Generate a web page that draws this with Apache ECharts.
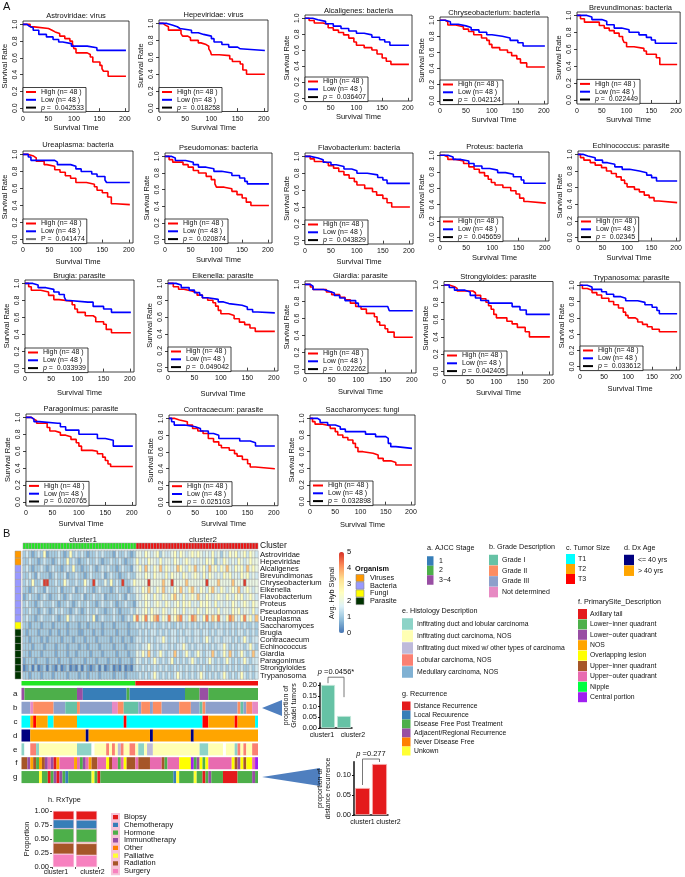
<!DOCTYPE html>
<html><head><meta charset="utf-8">
<script src="https://cdn.jsdelivr.net/npm/echarts@6/dist/echarts.min.js"></script>
<style>html,body{margin:0;padding:0;background:#fff}#c{width:685px;height:877px}</style>
</head><body><div id="c"></div>
<script>
const FONT = '"Liberation Sans", Arial, Helvetica, sans-serif';

// ================= Panel A : Kaplan-Meier data =================
const kmTitles = ['Astroviridae: virus','Hepeviridae: virus','Alcaligenes: bacteria','Chryseobacterium: bacteria','Brevundimonas: bacteria',
 'Ureaplasma: bacteria','Pseudomonas: bacteria','Flavobacterium: bacteria','Proteus: bacteria','Echinococcus: parasite',
 'Brugia: parasite','Eikenella: parasite','Giardia: parasite','Strongyloides: parasite','Trypanosoma: parasite',
 'Paragonimus: parasite','Contracaecum: parasite','Saccharomyces: fungi'];
const kmPvalues = ['0.042533','0.018258','0.036407','0.042124','0.022449','0.041474','0.020874','0.043829','0.045659','0.02345',
 '0.033939','0.049042','0.022262','0.042405','0.033612','0.020765','0.025103','0.032898'];
const kmPSymbols = ['p','p','p','p','p','P','p','p','p','p','p','p','p','p','p','p','p','p'];
const kmHighLabel = 'High (n= 48 )';
const kmLowLabel = 'Low (n= 48 )';

const kmHigh = [
 [[0,1],[14,0.97],[22,0.95],[50,0.93],[57,0.91],[63,0.89],[72,0.86],[82,0.83],[92,0.8],[97,0.77],[100,0.71],[104,0.66],[126,0.64],[132,0.61],[137,0.55],[151,0.51],[155,0.47],[158,0.44],[167,0.38],[202,0.38]],
 [[0,1],[8,0.98],[12,0.96],[18,0.92],[42,0.88],[45,0.85],[55,0.83],[60,0.8],[75,0.77],[80,0.75],[90,0.73],[95,0.7],[98,0.67],[100,0.63],[115,0.62],[135,0.58],[140,0.55],[155,0.52],[160,0.45],[167,0.4],[202,0.4]],
 [[0,1],[8,0.97],[18,0.94],[35,0.92],[45,0.88],[55,0.85],[65,0.82],[75,0.79],[85,0.75],[95,0.7],[100,0.66],[115,0.63],[130,0.6],[140,0.55],[150,0.5],[158,0.46],[167,0.42],[202,0.42]],
 [[0,1],[10,0.98],[15,0.94],[30,0.92],[45,0.89],[55,0.86],[65,0.82],[80,0.78],[90,0.75],[95,0.7],[100,0.66],[115,0.63],[130,0.6],[138,0.56],[148,0.52],[155,0.47],[167,0.42],[202,0.42]],
 [[0,1],[7,0.96],[15,0.92],[45,0.88],[55,0.85],[65,0.82],[75,0.79],[85,0.75],[92,0.72],[95,0.68],[100,0.63],[115,0.61],[135,0.58],[140,0.54],[160,0.5],[167,0.42],[202,0.42]],
 [[0,1],[10,0.98],[20,0.96],[25,0.92],[40,0.88],[45,0.86],[60,0.82],[70,0.79],[80,0.75],[90,0.72],[100,0.67],[120,0.65],[135,0.62],[140,0.58],[150,0.55],[160,0.5],[167,0.42],[175,0.41],[202,0.41]],
 [[0,1],[8,0.96],[15,0.93],[35,0.9],[45,0.87],[55,0.83],[65,0.8],[80,0.76],[90,0.72],[97,0.67],[100,0.63],[115,0.61],[130,0.58],[140,0.54],[150,0.5],[158,0.45],[167,0.41],[202,0.41]],
 [[0,1],[10,0.97],[18,0.94],[35,0.92],[45,0.89],[55,0.86],[65,0.82],[75,0.78],[85,0.74],[95,0.7],[100,0.66],[115,0.62],[130,0.58],[138,0.54],[150,0.5],[158,0.45],[167,0.4],[202,0.4]],
 [[0,1],[8,0.98],[15,0.95],[30,0.93],[45,0.9],[55,0.86],[65,0.83],[75,0.79],[85,0.75],[92,0.71],[98,0.67],[105,0.64],[120,0.61],[135,0.57],[145,0.53],[152,0.48],[160,0.44],[167,0.42],[202,0.42]],
 [[0,1],[5,0.96],[12,0.93],[25,0.9],[35,0.87],[48,0.84],[58,0.8],[68,0.77],[78,0.73],[88,0.69],[95,0.65],[100,0.61],[115,0.58],[125,0.55],[135,0.51],[145,0.48],[155,0.44],[165,0.42],[202,0.42]],
 [[0,1],[7,0.96],[12,0.92],[30,0.9],[45,0.86],[55,0.81],[65,0.79],[90,0.75],[95,0.7],[100,0.66],[115,0.62],[130,0.6],[135,0.55],[150,0.52],[155,0.46],[165,0.42],[202,0.42]],
 [[0,1],[10,0.96],[20,0.93],[30,0.91],[45,0.89],[55,0.86],[65,0.83],[75,0.8],[85,0.77],[90,0.73],[95,0.68],[100,0.64],[115,0.62],[125,0.58],[135,0.54],[145,0.51],[155,0.47],[165,0.43],[202,0.43]],
 [[0,1],[10,0.97],[15,0.94],[40,0.91],[50,0.88],[65,0.85],[75,0.82],[85,0.78],[95,0.74],[105,0.71],[115,0.66],[130,0.62],[135,0.56],[140,0.52],[150,0.48],[155,0.44],[167,0.38],[202,0.38]],
 [[0,1],[10,0.98],[20,0.96],[25,0.93],[55,0.91],[60,0.88],[70,0.84],[80,0.8],[85,0.76],[90,0.72],[95,0.66],[100,0.62],[115,0.62],[120,0.58],[130,0.55],[140,0.51],[155,0.46],[163,0.4],[202,0.4]],
 [[0,1],[5,0.96],[15,0.94],[25,0.91],[35,0.88],[45,0.84],[60,0.8],[70,0.76],[80,0.72],[90,0.67],[95,0.63],[100,0.6],[115,0.58],[120,0.55],[130,0.52],[140,0.49],[150,0.46],[165,0.43],[202,0.43]],
 [[0,1],[10,0.98],[15,0.96],[20,0.93],[40,0.88],[45,0.84],[55,0.82],[65,0.79],[75,0.77],[85,0.74],[95,0.7],[100,0.66],[105,0.61],[125,0.6],[135,0.57],[145,0.53],[150,0.49],[155,0.45],[160,0.42],[202,0.42]],
 [[0,1],[10,0.98],[20,0.96],[35,0.92],[45,0.88],[55,0.85],[65,0.82],[75,0.76],[85,0.72],[95,0.68],[100,0.65],[115,0.62],[125,0.58],[130,0.55],[140,0.51],[150,0.46],[155,0.42],[165,0.4],[202,0.4]],
 [[0,1],[5,0.96],[10,0.93],[25,0.91],[40,0.88],[50,0.84],[55,0.8],[65,0.77],[75,0.74],[85,0.7],[90,0.65],[95,0.6],[105,0.58],[125,0.56],[135,0.52],[145,0.49],[160,0.47],[170,0.44],[202,0.44]]
];
const kmLow = [
 [[0,1],[8,0.98],[12,0.96],[20,0.93],[31,0.88],[46,0.85],[59,0.82],[70,0.79],[78,0.77],[95,0.74],[126,0.72],[145,0.69],[202,0.69]],
 [[0,1],[15,0.98],[25,0.96],[35,0.94],[40,0.92],[62,0.89],[75,0.87],[85,0.85],[100,0.82],[105,0.78],[120,0.75],[133,0.72],[150,0.7],[155,0.68],[202,0.68]],
 [[0,1],[15,0.98],[25,0.96],[40,0.93],[55,0.9],[70,0.87],[85,0.84],[100,0.81],[115,0.79],[130,0.76],[145,0.73],[155,0.7],[165,0.66],[202,0.66]],
 [[0,1],[10,0.98],[20,0.95],[35,0.93],[50,0.91],[60,0.88],[75,0.85],[90,0.82],[100,0.8],[120,0.78],[135,0.75],[150,0.72],[160,0.68],[202,0.68]],
 [[0,1],[20,0.98],[30,0.95],[50,0.93],[60,0.89],[75,0.85],[90,0.83],[105,0.8],[125,0.77],[140,0.74],[150,0.71],[158,0.67],[202,0.67]],
 [[0,1],[10,0.97],[15,0.93],[50,0.93],[60,0.91],[65,0.88],[90,0.86],[100,0.83],[110,0.8],[130,0.77],[140,0.74],[155,0.7],[158,0.67],[202,0.67]],
 [[0,1],[12,0.98],[20,0.95],[40,0.93],[55,0.9],[65,0.87],[80,0.85],[95,0.82],[110,0.8],[130,0.77],[145,0.74],[155,0.7],[160,0.67],[202,0.67]],
 [[0,1],[10,0.98],[25,0.96],[35,0.93],[50,0.9],[60,0.88],[75,0.85],[90,0.83],[100,0.8],[120,0.78],[140,0.75],[150,0.72],[158,0.68],[202,0.68]],
 [[0,1],[15,0.98],[25,0.95],[40,0.93],[55,0.9],[65,0.87],[80,0.84],[95,0.82],[110,0.79],[125,0.77],[140,0.74],[155,0.7],[160,0.66],[202,0.66]],
 [[0,1],[10,0.98],[20,0.96],[35,0.93],[50,0.9],[60,0.88],[75,0.85],[90,0.82],[105,0.8],[125,0.78],[140,0.75],[150,0.72],[160,0.68],[202,0.68]],
 [[0,1],[15,0.98],[25,0.95],[40,0.93],[55,0.9],[65,0.87],[75,0.84],[78,0.8],[85,0.78],[120,0.78],[130,0.73],[150,0.7],[165,0.66],[202,0.66]],
 [[0,1],[15,0.98],[25,0.95],[40,0.92],[50,0.89],[60,0.86],[65,0.83],[75,0.81],[95,0.78],[105,0.76],[115,0.74],[140,0.72],[150,0.69],[160,0.66],[170,0.65],[202,0.65]],
 [[0,1],[10,0.98],[15,0.94],[35,0.92],[45,0.9],[55,0.87],[65,0.84],[75,0.81],[95,0.78],[100,0.74],[155,0.74],[158,0.69],[202,0.69]],
 [[0,1],[10,0.97],[20,0.94],[40,0.92],[50,0.88],[60,0.85],[70,0.82],[85,0.79],[125,0.79],[130,0.75],[145,0.71],[157,0.66],[202,0.66]],
 [[0,1],[15,0.98],[25,0.95],[45,0.92],[55,0.89],[70,0.86],[85,0.84],[95,0.81],[120,0.79],[135,0.76],[150,0.73],[160,0.69],[165,0.65],[202,0.65]],
 [[0,1],[10,0.98],[15,0.95],[25,0.93],[60,0.93],[65,0.89],[75,0.85],[90,0.85],[100,0.8],[125,0.8],[135,0.75],[150,0.73],[165,0.66],[202,0.66]],
 [[0,1],[5,0.96],[10,0.92],[30,0.9],[50,0.88],[60,0.85],[75,0.82],[85,0.8],[95,0.76],[125,0.76],[135,0.73],[155,0.71],[165,0.67],[202,0.67]],
 [[0,1],[15,0.98],[20,0.95],[35,0.92],[50,0.9],[60,0.87],[70,0.84],[105,0.84],[110,0.81],[130,0.78],[150,0.76],[155,0.7],[160,0.66],[170,0.64],[202,0.64]]
];

// ================= Panel B : heatmap data =================
const heatRowNames = ['Astroviridae','Hepeviridae','Alcaligenes','Brevundimonas','Chryseobacterium','Eikenella','Flavobacterium','Proteus',
 'Pseudomonas','Ureaplasma','Saccharomyces','Brugia','Contracaecum','Echinococcus','Giardia','Paragonimus','Strongyloides','Trypanosoma'];
const heatRowOrganism = [1,1,2,2,2,2,2,2,2,2,3,4,4,4,4,4,4,4]; // 1 Viruses 2 Bacteria 3 Fungi 4 Parasite
const nCluster1 = 39;
const nCluster2 = 42;
// signal level of every cell (digit = level index into heatLevels)
const heatLevels = [0.15, 0.6, 1.05, 1.5, 1.95, 2.5, 3.0, 3.6, 4.2, 4.9];
const heatRows = [
 '2321232512 2232125232 3212232322 2132232124 4354345243 3453543454 5434353424 3545345354 3',
 '2232212322 1232252321 2232232122 3223212235 3435443534 4354345434 3435452435 4343543454 4',
 '2321223212 3221232522 1223212323 2212322134 5374354735 4347543547 3453745354 7435453745 4',
 '2232132221 2322312232 2123222312 3221223224 4354354435 3544354345 4353543435 4534354534 3',
 '2325223992 2322532232 2532932242 5232922354 4449444474 4944447444 4449444744 4474449444 4',
 '2212322132 2231222312 2322123222 1232221234 3547435473 4354743574 3543574354 3454734543 4',
 '1232212321 2232123222 3122322312 2223213224 3454354354 3574353454 7435434543 5435453454 3',
 '2322123222 3212232123 2232212322 3212232213 4354345435 4345354534 3545435343 4354345435 4',
 '2232212321 2323221232 1232232212 2321222324 3453544354 3454353443 5435443534 4354534435 3',
 '2322123222 3212252322 2232512322 2322123258 4584578354 8457843587 4358475843 5874358453 7',
 '2212221222 1222212221 2212222122 2122221223 2323232232 3223232323 2323223232 3232323223 2',
 '2122212221 2212212221 1222122122 2212221222 3232332323 2332323323 3233232332 3232332323 2',
 '2212221212 2221222122 2122212222 1222122123 3232323353 2332332323 3235323323 3323235323 3',
 '2221222122 2122212221 2212221222 2122212223 2335323233 2323353232 3323232335 3232332353 2',
 '2212221222 2122212212 2221222122 2212221224 3537323532 3373235323 5323373235 3732353237 3',
 '1222122212 2212221222 2122212221 2221222124 3232353232 3523232353 2323532323 5323235323 3',
 '0120201202 1020120102 0210120201 2010201023 2323232323 2232323232 3232232323 2323232232 3',
 '2212221222 1222212221 2212221222 2122212222 3232353232 3235323232 3532323235 3232353232 3'
];
// annotation tracks as runs [category code, number of samples]
const trackAjcc = [[3,1],[2,18],[3,2],[1,15],[2,1],[1,19],[2,5],[3,3],[2,17]];
const trackGrade = [[3,3],[4,1],[2,7],[3,4],[1,4],[2,1],[3,11],[4,2],[2,2],[1,5],[3,1],[2,3],[3,1],[2,3],[3,6],[2,4],[3,3],[1,1],[2,1],[3,11],[2,1],[1,1],[3,1],[2,2],[4,2]];
const trackTumor = [[1,3],[2,1],[3,1],[2,4],[1,2],[2,8],[1,16],[3,1],[1,26],[3,2],[2,9],[3,1],[2,6],[1,1]];
const trackAge = [[1,3],[2,19],[1,1],[2,21],[1,1],[2,13],[1,1],[2,22]];
const trackHisto = [[1,1],[0,2],[4,2],[1,1],[2,13],[1,5],[0,1],[2,4],[4,1],[2,1],[4,1],[2,1],[3,1],[4,1],[2,2],[4,2],[2,1],[1,2],[2,1],[3,2],[2,16],[1,3],[2,5],[0,1],[2,3],[1,1],[4,1],[2,1],[4,1],[2,2],[4,2]];
const trackSite = [[6,2],[3,1],[4,1],[6,1],[2,1],[4,1],[6,1],[3,1],[7,1],[3,1],[1,1],[4,1],[7,5],[4,1],[7,1],[2,1],[3,1],[7,1],[4,1],[6,2],[7,3],[5,1],[6,1],[7,2],[2,1],[7,1],[5,1],[6,3],[7,1],[6,4],[7,4],[6,1],[2,1],[7,4],[5,4],[9,1],[2,1],[3,1],[5,1],[2,1],[5,1],[7,8],[5,1],[6,1],[3,1],[5,1],[6,1],[5,2],[7,1],[9,1]];
const trackRecur = [[3,6],[6,1],[3,2],[1,1],[3,1],[4,1],[1,1],[4,1],[3,1],[2,1],[3,8],[6,1],[3,1],[1,1],[3,25],[2,1],[6,1],[3,5],[6,1],[3,2],[1,1],[3,1],[4,1],[3,4],[1,5],[3,5],[4,1],[3,1]];
const trackLetters = ['a','b','c','d','e','f','g'];

// legends (names and colours)
const organismNames = ['Viruses','Bacteria','Fungi','Parasite'];
const organismColors = ['#ff9900','#9999ff','#ffff00','#003300'];
const clusterColors = ['#22e622','#ee1111'];
const ajccNames = ['1','2','3\u22124'];
const ajccColors = ['#377eb8','#4daf4a','#984ea3'];
const gradeNames = ['Grade I','Grade II','Grade III','Not determined'];
const gradeColors = ['#66c2a5','#fc8d62','#8da0cb','#e78ac3'];
const tumorNames = ['T1','T2','T3'];
const tumorColors = ['#00ffff','#ffa500','#ff0000'];
const ageNames = ['<= 40 yrs','> 40 yrs'];
const ageColors = ['#000080','#ffa500'];
const histoNames = ['Infitrating duct and lobular carcinoma','Infitrating duct carcinoma, NOS','Infitrating duct mixed w/ other types of carcinoma','Lobular carcinoma, NOS','Medullary carcinoma, NOS'];
const histoColors = ['#8dd3c7','#ffffb3','#bebada','#fb8072','#80b1d3'];
const siteNames = ['Axillary tail','Lower\u2212inner quadrant','Lower\u2212outer quadrant','NOS','Overlapping lesion','Upper\u2212inner quadrant','Upper\u2212outer quadrant','Nipple','Central portion'];
const siteColors = ['#e41a1c','#4daf4a','#984ea3','#ffa500','#ffff00','#a65628','#e86bb0','#00ff40','#a020f0'];
const recurNames = ['Distance Recurrence','Local Recuurence','Disease Free Post Treatment','Adjacent/Regional Recurrence','Never Disease Free','Unkown'];
const recurColors = ['#e41a1c','#377eb8','#4daf4a','#984ea3','#ff7f00','#ffff33'];
const heatColors = ['#4575b4','#91bfdb','#e0f3f8','#ffffbf','#fee090','#fc8d59','#d73027'];

// bar charts
const clusterNames = ['cluster1','cluster2'];
const gradeIProportion = [0.201, 0.056];
const gradeIP = '0.0456*';
const distRecurProportion = [0.0675, 0.1275];
const distRecurP = '0.277';
const rxNames = ['Biopsy','Chemotherapy','Hormone','Immunotherapy','Other','Palliative','Radiation','Surgery'];
const rxColors = ['#e41a1c','#377eb8','#4daf4a','#984ea3','#ff7f00','#ffff33','#a65628','#f781bf'];
const rxCluster1 = [0.155, 0.16, 0.25, 0.0, 0.0, 0.005, 0.20, 0.23];
const rxCluster2 = [0.16, 0.16, 0.24, 0.0, 0.005, 0.015, 0.21, 0.21];

// ================= layout (pixels) =================
// [frameLeft, frameRight, frameTop, frameBottom, titleY, xNameY]
const kmFrames = [
 [23,129,21,111.5,16,128],[159,268,20,111.5,15,128],[305,412,15,101,11,117],[440,548,17,104,13,120],[577,684,12,103.4,8,120],
 [23,133,151,243,145,262],[165,272,153,243,148,260],[305,413,153,244,148,262],[440,549,152,241,147,258],[578,684,151,241,146,258],
 [25,134,280,372,276,393],[168,278,280,371,276,394],[305,416,281,373,276,392],[444,553,281.5,375,277,393],[580,683,282,370,278,389],
 [26,136,414,505.4,409,524],[169,278,415,505.7,410,524],[310,415,415,505,410,525]
];

const grid = [], xAxis = [], yAxis = [], series = [], legend = [], graphic = [];
const txt = (text, x, y, size, extra) => Object.assign({type:'text', x, y, silent:true,
  style: Object.assign({text, fontSize:size, fontFamily:FONT, fill:'#111', align:'left', verticalAlign:'middle'}, extra || {})});

// ---------- KM plots ----------
kmFrames.forEach((f, i) => {
  const [L, R, T, B, ty, ny] = f;
  const gi = grid.length;
  grid.push({left:L, top:T, width:R-L, height:B-T, show:true, borderColor:'#111', borderWidth:0.8, backgroundColor:'transparent'});
  xAxis.push({type:'value', gridIndex:gi, min:0, max:208,
    name:'Survival Time', nameLocation:'middle', nameGap: ny - B - 4.5,
    nameTextStyle:{fontSize:7.5, color:'#111', fontFamily:FONT},
    axisLine:{show:false}, splitLine:{show:false},
    axisTick:{show:true, length:3, customValues:[0,50,100,150,200], lineStyle:{color:'#111', width:0.8}},
    axisLabel:{customValues:[0,50,100,150,200], fontSize:7, margin:4, color:'#111', fontFamily:FONT}});
  yAxis.push({type:'value', gridIndex:gi, min:-0.04, max:1.04,
    name:'Survival Rate', nameLocation:'middle', nameGap:14,
    nameTextStyle:{fontSize:7.5, color:'#111', fontFamily:FONT},
    axisLine:{show:false}, splitLine:{show:false},
    axisTick:{show:true, length:3, customValues:[0,0.2,0.4,0.6,0.8,1], lineStyle:{color:'#111', width:0.8}},
    axisLabel:{customValues:[0,0.2,0.4,0.6,0.8,1], rotate:90, fontSize:7, margin:4, color:'#111', fontFamily:FONT,
      formatter: v => v.toFixed(1)}});
  const pName = kmPSymbols[i] + ' =  ' + kmPvalues[i];
  series.push({type:'line', name:kmHighLabel, xAxisIndex:gi, yAxisIndex:gi, data:kmHigh[i], step:'end', symbol:'none',
    lineStyle:{color:'#ff0000', width:1.6}, itemStyle:{color:'#ff0000'}, z:3});
  series.push({type:'line', name:kmLowLabel, xAxisIndex:gi, yAxisIndex:gi, data:kmLow[i], step:'end', symbol:'none',
    lineStyle:{color:'#0000ff', width:1.6}, itemStyle:{color:'#0000ff'}, z:4});
  series.push({type:'line', name:pName, xAxisIndex:gi, yAxisIndex:gi, data:[], symbol:'none',
    itemStyle:{color: kmPSymbols[i] === 'P' ? '#777' : '#000'}});
  legend.push({left:L, top:B-24, orient:'vertical', data:[kmHighLabel, kmLowLabel, pName], icon:'rect',
    itemWidth:10, itemHeight:2, itemGap:0.8, itemTextGap:3, padding:[1,2,1,3], selectedMode:false,
    borderColor:'#111', borderWidth:0.8, borderRadius:0, backgroundColor:'#fff',
    textStyle:{fontSize:7, lineHeight:7, color:'#111', fontFamily:FONT, rich:{i:{fontStyle:'italic', fontSize:7, fontFamily:FONT}}},
    formatter: n => n.indexOf('p =') === 0 ? '{i|p}' + n.slice(1) : n});
  graphic.push(txt(kmTitles[i], (L+R)/2, ty, 7.5, {align:'center'}));
});

// ---------- Heatmap ----------
const nCols = nCluster1 + nCluster2;
const colCats = Array.from({length:nCols}, (_, k) => 'S' + (k+1));
let gi = grid.length;
grid.push({left:23, top:551, width:235, height:128});
xAxis.push({type:'category', gridIndex:gi, data:colCats, show:false});
yAxis.push({type:'category', gridIndex:gi, data:heatRowNames, inverse:true, position:'right',
  axisLine:{show:false}, axisTick:{show:false},
  axisLabel:{interval:0, fontSize:7.6, margin:2, color:'#111', fontFamily:FONT}});
const heatData = [];
heatRows.forEach((s, r) => s.replace(/\s/g,'').split('').forEach((ch, c) => heatData.push([c, r, heatLevels[+ch]])));
const heatSeriesIndex = series.length;
series.push({type:'heatmap', xAxisIndex:gi, yAxisIndex:gi, data:heatData,
  itemStyle:{borderColor:'#9a9a9a', borderWidth:0.5}, emphasis:{disabled:true}});

function cellRender(palette) {
  return function (params, api) {
    const c = api.coord([api.value(0), api.value(1)]);
    const s = api.size([1, 1]);
    return {type:'rect', shape:{x:c[0]-s[0]/2, y:c[1]-s[1]/2, width:s[0], height:s[1]},
      style:{fill:palette[api.value(2)-1], stroke:'#9a9a9a', lineWidth:0.5}};
  };
}
// cluster row (top)
gi = grid.length;
grid.push({left:23, top:543, width:235, height:6});
xAxis.push({type:'category', gridIndex:gi, data:colCats, show:false});
yAxis.push({type:'category', gridIndex:gi, data:['Cluster'], position:'right', axisLine:{show:false}, axisTick:{show:false},
  axisLabel:{fontSize:8.5, margin:2, color:'#111', fontFamily:FONT}});
series.push({type:'custom', xAxisIndex:gi, yAxisIndex:gi, renderItem:cellRender(clusterColors),
  encode:{x:0, y:1}, data: colCats.map((_, k) => [k, 0, k < nCluster1 ? 1 : 2])});
// organism column
gi = grid.length;
grid.push({left:15, top:551, width:6, height:128});
xAxis.push({type:'category', gridIndex:gi, data:['Organism'], show:false});
yAxis.push({type:'category', gridIndex:gi, data:heatRowNames, inverse:true, show:false});
series.push({type:'custom', xAxisIndex:gi, yAxisIndex:gi, renderItem:cellRender(organismColors),
  encode:{x:0, y:1}, data: heatRowOrganism.map((o, r) => [0, r, o])});

// run-length tracks
function toRuns(runs, trackIdx) {
  const out = []; let pos = 0;
  runs.forEach(([code, len]) => { out.push([pos, pos + len, trackIdx, code]); pos += len; });
  return out;
}
function runRender(palettes, frac) {
  return function (params, api) {
    const t = api.value(2);
    const p0 = api.coord([api.value(0), t]);
    const p1 = api.coord([api.value(1), t]);
    const h = api.size([0, 1])[1] * frac;
    const code = api.value(3);
    return {type:'rect', shape:{x:p0[0], y:p0[1]-h/2, width:p1[0]-p0[0], height:h},
      style:{fill: code === 0 ? '#ffffff' : palettes[t][code-1], stroke:null}};
  };
}
// cluster bar under heatmap
gi = grid.length;
grid.push({left:21.5, top:681, width:236.5, height:4.5});
xAxis.push({type:'value', gridIndex:gi, min:0, max:nCols, show:false});
yAxis.push({type:'category', gridIndex:gi, data:['cluster'], show:false});
series.push({type:'custom', xAxisIndex:gi, yAxisIndex:gi, renderItem:runRender([clusterColors], 1),
  encode:{x:[0,1], y:2}, data: toRuns([[1,nCluster1],[2,nCluster2]], 0)});
// annotation tracks a-g
gi = grid.length;
grid.push({left:21.5, top:687, width:236.5, height:97});
xAxis.push({type:'value', gridIndex:gi, min:0, max:nCols, show:false});
yAxis.push({type:'category', gridIndex:gi, data:trackLetters, inverse:true, position:'left',
  axisLine:{show:false}, axisTick:{show:false}, axisLabel:{interval:0, fontSize:8, margin:4, color:'#111', fontFamily:FONT}});
const trackPalettes = [ajccColors, gradeColors, tumorColors, ageColors, histoColors, siteColors, recurColors];
const trackData = [].concat(
  toRuns(trackAjcc,0), toRuns(trackGrade,1), toRuns(trackTumor,2), toRuns(trackAge,3),
  toRuns(trackHisto,4), toRuns(trackSite,5), toRuns(trackRecur,6));
series.push({type:'custom', xAxisIndex:gi, yAxisIndex:gi, renderItem:runRender(trackPalettes, 0.87),
  encode:{x:[0,1], y:2}, data:trackData});

// colour bar axis (Avg. Hyb Signal)
gi = grid.length;
grid.push({left:339, top:552, width:5, height:81});
xAxis.push({type:'value', gridIndex:gi, show:false, min:0, max:1});
yAxis.push({type:'value', gridIndex:gi, min:0, max:5, interval:1, position:'right',
  axisLine:{show:false}, axisTick:{show:false}, splitLine:{show:false},
  axisLabel:{fontSize:7.5, margin:3, color:'#111', fontFamily:FONT}});

// ---------- bar charts ----------
function bracketRender(pText) {
  return function (params, api) {
    const a = api.coord([0, api.value(1)]), b = api.coord([0, api.value(2)]);
    const c = api.coord([1, api.value(2)]), d = api.coord([1, api.value(4)]);
    return {type:'group', children:[
      {type:'polyline', shape:{points:[a,b,c,d]}, style:{stroke:'#555', lineWidth:0.8, fill:null}},
      {type:'text', x:(b[0]+c[0])/2, y:b[1]-1.5, style:{text:'{i|p} =' + pText, align:'center', verticalAlign:'bottom',
        fontSize:7.5, fontFamily:FONT, fill:'#111', rich:{i:{fontStyle:'italic', fontSize:7.5, fontFamily:FONT}}}}]};
  };
}
// pads shift each cluster label sideways like the reference
function clusterLabel(p1, p2) {
  return {fontSize:7, margin:4, color:'#111', fontFamily:FONT, interval:0,
    formatter: (v, k) => (k === 0 ? '{a|' : '{b|') + v + '}',
    rich:{a:{fontSize:7, fontFamily:FONT, padding:p1}, b:{fontSize:7, fontFamily:FONT, padding:p2}}};
}
function smallBarAxes(g, max, vals, name, nameGap, lab) {
  const idx = grid.length;
  grid.push(g);
  xAxis.push({type:'category', gridIndex:idx, data:clusterNames,
    axisLine:{show:true, lineStyle:{color:'#111', width:1.5}}, axisTick:{show:false}, axisLabel:lab});
  yAxis.push({type:'value', gridIndex:idx, min:0, max:max, name:name, nameLocation:'middle', nameGap:nameGap,
    nameTextStyle:{fontSize:7, color:'#111', fontFamily:FONT, lineHeight:8},
    axisLine:{show:true, lineStyle:{color:'#111', width:1.5}}, splitLine:{show:false},
    axisTick:{show:true, length:2, customValues:vals, lineStyle:{color:'#111'}},
    axisLabel:{customValues:vals, fontSize:7.5, margin:3, color:'#111', fontFamily:FONT, formatter:v => v.toFixed(2)}});
  return idx;
}
// Grade I proportion
gi = smallBarAxes({left:320, top:683, width:32, height:45}, 0.21, [0,0.05,0.1,0.15,0.2], 'proportion of\nGradeI tumors', 20,
  clusterLabel([0,12,0,0],[0,0,0,18]));
series.push({type:'bar', xAxisIndex:gi, yAxisIndex:gi, data:gradeIProportion, barWidth:14,
  itemStyle:{color:'#66c2a5', borderColor:'#c4e9da', borderWidth:0.8}});
series.push({type:'custom', xAxisIndex:gi, yAxisIndex:gi, renderItem:bracketRender(gradeIP),
  encode:{x:[0,3], y:[1,2,4]}, data:[[0, 0.209, 0.237, 1, 0.144]], z:5});
// distance recurrence proportion
gi = smallBarAxes({left:354, top:761.8, width:34, height:53.2}, 0.133, [0,0.05,0.1], 'proportion of\ndistance recurrence', 13,
  clusterLabel([0,0,0,0],[0,0,0,18]));
series.push({type:'bar', xAxisIndex:gi, yAxisIndex:gi, data:distRecurProportion, barWidth:15,
  itemStyle:{color:'#e41a1c', borderColor:'#f6b6b6', borderWidth:0.8}});
series.push({type:'custom', xAxisIndex:gi, yAxisIndex:gi, renderItem:bracketRender(distRecurP),
  encode:{x:[0,3], y:[1,2,4]}, data:[[0, 0.075, 0.14, 1, 0.1325]], z:5});
// RxType stacked proportions
gi = grid.length;
grid.push({left:52, top:811, width:46, height:56});
const rxLab = clusterLabel([0,15,0,0],[0,0,0,12]);
xAxis.push({type:'category', gridIndex:gi, data:clusterNames, axisLine:{show:false}, axisTick:{show:true, length:2, lineStyle:{color:'#555'}},
  axisLabel:Object.assign(rxLab, {margin:2})});
yAxis.push({type:'value', gridIndex:gi, min:0, max:1, interval:0.25, name:'Proportion', nameLocation:'middle', nameGap:18,
  nameTextStyle:{fontSize:7.5, color:'#111', fontFamily:FONT},
  axisLine:{show:false}, splitLine:{show:false}, axisTick:{show:true, length:2, lineStyle:{color:'#555'}},
  axisLabel:{fontSize:7.5, margin:3, color:'#111', fontFamily:FONT, formatter:v => v.toFixed(2)}});
for (let k = rxNames.length - 1; k >= 0; k--) {
  series.push({type:'bar', name:rxNames[k], stack:'rx', xAxisIndex:gi, yAxisIndex:gi, data:[rxCluster1[k], rxCluster2[k]],
    barWidth:21, itemStyle:{color:rxColors[k], borderColor:'#f6c3d8', borderWidth:0.5}});
}
legend.push({left:111, top:813, orient:'vertical', data:rxNames, icon:'rect', itemWidth:7, itemHeight:6.3, itemGap:-0.6,
  itemTextGap:3, padding:0, selectedMode:false, textStyle:{fontSize:7.5, color:'#111', fontFamily:FONT}});

// ---------- legends as graphics ----------
function legendBlock(title, x, ty, names, colors, o) {
  const els = [txt(title, x, ty, o.titleSize || 7.2, o.bold ? {fontWeight:'bold'} : {})];
  names.forEach((n, k) => {
    const cy = o.first + k * o.step;
    els.push({type:'rect', silent:true, shape:{x:x + (o.boxDx || 0), y:cy - o.bh/2, width:o.bw, height:o.bh},
      style:{fill:colors[k], stroke:o.stroke || null, lineWidth:0.6}});
    els.push(txt(n, o.tx, cy, o.fs || 7));
  });
  return els;
}
graphic.push(...legendBlock('Organism', 355, 569, organismNames, organismColors, {bold:true, titleSize:7.3, first:578, step:7.7, bw:8, bh:7, boxDx:1, tx:370, fs:7.3, stroke:'#888'}));
graphic.push(...legendBlock('a. AJCC Stage', 427, 548, ajccNames, ajccColors, {first:561, step:9.5, bw:6.5, bh:9.5, tx:439}));
graphic.push(...legendBlock('b. Grade Description', 489, 547, gradeNames, gradeColors, {first:560, step:10.7, bw:9, bh:10.5, tx:502}));
graphic.push(...legendBlock('c. Tumor Size', 566, 548, tumorNames, tumorColors, {first:559, step:10, bw:9, bh:10, tx:578}));
graphic.push(...legendBlock('d. Dx Age', 624, 548, ageNames, ageColors, {first:560, step:10.7, bw:10, bh:10.5, tx:638}));
graphic.push(...legendBlock('e. Histology Description', 402, 611, histoNames, histoColors, {first:624, step:12, bw:11, bh:11.5, tx:417, fs:6.8}));
graphic.push(...legendBlock('f. PrimarySite_Description', 578, 602, siteNames, siteColors, {first:614, step:10.4, bw:9, bh:10, tx:590, fs:6.8}));
graphic.push(...legendBlock('g. Recurrence', 402, 694, recurNames, recurColors, {first:706, step:9, bw:8.5, bh:9, tx:414, fs:6.8}));
graphic.push(txt('Avg. Hyb Signal', 332, 593, 7.3, {align:'center'}));
graphic[graphic.length-1].rotation = Math.PI/2;
graphic.push(txt('h. RxType', 48, 800, 7.3));
graphic.push(txt('cluster1', 83, 540, 8, {align:'center'}));
graphic.push(txt('cluster2', 203, 540, 8, {align:'center'}));
graphic.push(txt('A', 3, 7, 11));
graphic.push(txt('B', 3, 534, 11));
graphic.push({type:'polygon', silent:true, shape:{points:[[262,708],[282,700],[282,716]]}, style:{fill:'#4f7fbf'}});
graphic.push({type:'polygon', silent:true, shape:{points:[[262,777],[320,768],[320,786]]}, style:{fill:'#4f7fbf'}});

const option = {
  animation:false, backgroundColor:'#ffffff', textStyle:{fontFamily:FONT},
  grid, xAxis, yAxis, series, legend, graphic,
  visualMap:[{type:'continuous', min:0, max:5, seriesIndex:heatSeriesIndex, orient:'vertical', left:339, top:552,
    itemWidth:5, itemHeight:81, padding:0, calculable:false, hoverLink:false, showLabel:false,
    inRange:{color:heatColors}, textStyle:{fontSize:0}}]
};
const chart = echarts.init(document.getElementById('c'), null, {renderer:'canvas'});
chart.setOption(option);
</script></body></html>
